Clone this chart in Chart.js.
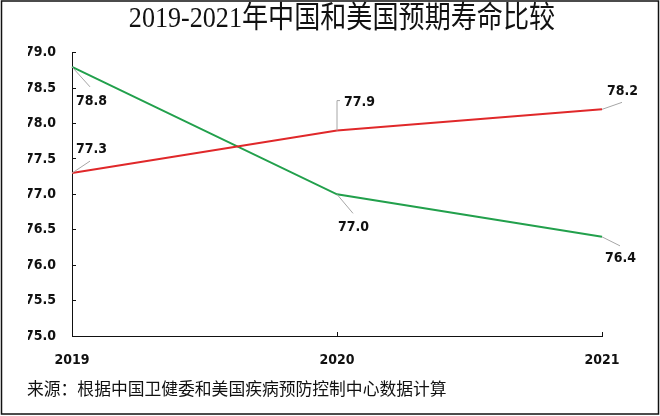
<!DOCTYPE html>
<html>
<head>
<meta charset="utf-8">
<script src="https://cdn.jsdelivr.net/npm/chart.js@4/dist/chart.umd.min.js"></script>
<style>
  html, body { margin: 0; padding: 0; background: #fff; }
  #wrap { position: relative; width: 660px; height: 416px; }
  canvas { display: block; }
</style>
</head>
<body>
<div id="wrap"><canvas id="c" width="660" height="416"></canvas></div>
<script>
// ---- data ----
const years = ['2019', '2020', '2021'];
const chinaValues = [77.3, 77.9, 78.2];
const usValues = [78.8, 77.0, 76.4];
const yTicks = [75.0, 75.5, 76.0, 76.5, 77.0, 77.5, 78.0, 78.5, 79.0];
const titleText = '2019-2021年中国和美国预期寿命比较';
const sourceText = '来源：根据中国卫健委和美国疾病预防控制中心数据计算';

// ---- label styling (offsets relative to each point, in px) ----
const labelStyle = [
  // China (red)
  [
    { leader: [[0,0],[18,-12]], dx: 4, dy: -24 },
    { leader: [[0,0],[0,-30],[3,-30]], dx: 7, dy: -28 },
    { leader: [[0,0],[20,-7]], dx: 5, dy: -18 }
  ],
  // USA (green)
  [
    { leader: [[0,0],[18,20]], dx: 4, dy: 34 },
    { leader: [[0,0],[16,19]], dx: 1, dy: 33 },
    { leader: [[0,0],[18,9]], dx: 3, dy: 22 }
  ]
];

const fontFamily = "'DejaVu Sans Condensed', 'DejaVu Sans', sans-serif";
const tickFont = { family: fontFamily, size: 14, weight: 'bold' };

const decor = {
  id: 'decor',
  afterDatasetsDraw(chart) {
    const ctx = chart.ctx;
    ctx.save();
    chart.data.datasets.forEach((ds, i) => {
      const meta = chart.getDatasetMeta(i);
      meta.data.forEach((pt, j) => {
        const st = labelStyle[i][j];
        const x = pt.x, y = pt.y;
        ctx.strokeStyle = '#a6a6a6';
        ctx.lineWidth = 1;
        ctx.beginPath();
        st.leader.forEach((p, k) => {
          if (k === 0) ctx.moveTo(x + p[0], y + p[1]);
          else ctx.lineTo(x + p[0], y + p[1]);
        });
        ctx.stroke();
        ctx.fillStyle = '#111';
        ctx.font = "bold 14px " + fontFamily;
        ctx.textAlign = 'left';
        ctx.textBaseline = 'middle';
        ctx.fillText(ds.data[j].toFixed(1), x + st.dx, y + st.dy);
      });
    });
    ctx.restore();
  },
  afterDraw(chart) {
    const ctx = chart.ctx;
    ctx.save();
    // title (horizontally compressed like the reference)
    ctx.translate(342, 19);
    ctx.scale(0.87, 1);
    ctx.fillStyle = '#111';
    ctx.font = "30px 'Liberation Serif', 'Noto Sans CJK SC', serif";
    ctx.textAlign = 'center';
    ctx.textBaseline = 'middle';
    ctx.fillText(titleText, 0, 0);
    ctx.restore();

    ctx.save();
    ctx.fillStyle = '#111';
    ctx.font = "16.8px 'Noto Sans CJK SC', sans-serif";
    ctx.textAlign = 'left';
    ctx.textBaseline = 'middle';
    ctx.fillText(sourceText, 27, 389);
    // frame
    ctx.strokeStyle = '#111';
    ctx.lineWidth = 1.5;
    ctx.strokeRect(1.5, 1, 657, 413);
    ctx.restore();
  }
};

new Chart(document.getElementById('c'), {
  type: 'line',
  data: {
    labels: years,
    datasets: [
      { label: '中国', data: chinaValues, borderColor: '#e0282a', backgroundColor: '#e0282a', borderWidth: 2, pointRadius: 0, tension: 0 },
      { label: '美国', data: usValues, borderColor: '#22a04c', backgroundColor: '#22a04c', borderWidth: 2, pointRadius: 0, tension: 0 }
    ]
  },
  options: {
    responsive: false,
    animation: false,
    layout: { padding: { left: 28, right: 58, top: 52.7, bottom: 48 } },
    plugins: {
      legend: { display: false },
      title: { display: false },
      tooltip: { enabled: false }
    },
    scales: {
      x: {
        type: 'category',
        offset: false,
        border: { display: true, color: '#111', width: 1 },
        grid: { display: true, drawOnChartArea: false, color: '#111', tickLength: -4 },
        ticks: { color: '#111', font: tickFont, padding: 20, maxRotation: 0 },
        afterFit(s) { s.height = 32; }
      },
      y: {
        min: 75,
        max: 79,
        afterBuildTicks(s) { s.ticks = yTicks.map(v => ({ value: v })); },
        border: { display: true, color: '#111', width: 1 },
        grid: { display: true, drawOnChartArea: false, color: '#111', tickLength: -4 },
        ticks: { color: '#111', font: tickFont, padding: 20, callback: v => Number(v).toFixed(1) },
        afterFit(s) { s.width = 44; }
      }
    }
  },
  plugins: [decor]
});
</script>
</body>
</html>
